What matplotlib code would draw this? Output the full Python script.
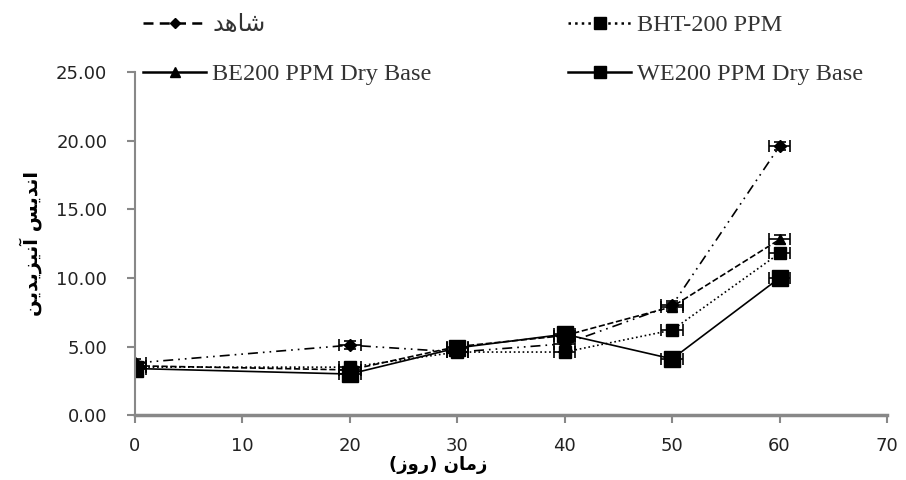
import matplotlib.pyplot as plt
from matplotlib.lines import Line2D
import numpy as np

# days of storage
days = [0, 20, 30, 40, 50, 60]

# anisidine index per treatment
control = [3.8, 5.1, 4.6, 5.2, 8.0, 19.6]
bht = [3.5, 3.5, 4.6, 4.6, 6.2, 11.8]
be200 = [3.6, 3.3, 5.0, 5.8, 7.9, 12.8]
we200 = [3.4, 3.0, 4.9, 5.9, 4.1, 10.0]

# error bars (x and y)
x_err = 1.0
y_err = 0.3

# Persian labels in presentation forms, visual order
lbl_control = "\uFEAA\uFEEB\uFE8E\uFEB7"  # شاهد
lbl_bht = "BHT-200 PPM"
lbl_be = "BE200 PPM Dry Base"
lbl_we = "WE200 PPM Dry Base"
xlabel = "(\uFEAF\uFEED\uFEAD) \uFEE5\uFE8E\uFEE3\uFEAF"  # زمان (روز)
ylabel = "\uFEE6\uFEF3\uFEAA\uFEF3\uFEB0\uFEF4\uFEE7\uFE81 \uFEB2\uFEF3\uFEAA\uFEE7\uFE8D"  # اندیس آنیزیدین

yticks = np.arange(0, 26, 5)
xticks = np.arange(0, 71, 10)

plt.rcParams['font.family'] = ['DejaVu Sans']

fig = plt.figure(figsize=(9.06, 4.8), dpi=100)
ax = fig.add_axes([0.149, 0.135, 0.83, 0.715])

series = [
    (control, lbl_control, (0, (6, 3, 1, 3, 1, 3)), 'D', 6),
    (be200, lbl_be, '--', '^', 7),
    (bht, lbl_bht, ':', 's', 8),
    (we200, lbl_we, '-', 's', 11),
]

for vals, lbl, ls, mk, ms in series:
    ax.errorbar(days, vals, xerr=x_err, yerr=y_err, color='black',
                linestyle=ls, linewidth=1.2, marker=mk, markersize=ms,
                capsize=4, elinewidth=1.2, capthick=1.2)

ax.set_xlim(0, 70)
ax.set_ylim(0, 25)
ax.set_xticks(xticks)
ax.set_yticks(yticks)
ax.set_yticklabels([f"{v:.2f}" for v in yticks])
ax.tick_params(axis='both', labelsize=13, color='#888888', length=6, width=1.5,
               labelcolor='#222222')
ax.tick_params(axis='x', pad=10)
ax.tick_params(axis='y', pad=14)

for s in ['top', 'right']:
    ax.spines[s].set_visible(False)
ax.spines['left'].set_color('#888888')
ax.spines['left'].set_linewidth(1.5)
ax.spines['bottom'].set_color('#888888')
ax.spines['bottom'].set_linewidth(2.5)

ax.set_xlabel(xlabel, fontsize=13, fontweight='bold')
ax.xaxis.set_label_coords(0.403, -0.118)
ax.set_ylabel(ylabel, fontsize=14, fontweight='bold', labelpad=10)

# legend entries placed like the original (two rows, two columns)
legend_styles = [
    ((0, (4, 2.5)), 'D', 5, lbl_control, 143, 25),
    ('-', '^', 7, lbl_be, 143, 74),
    (':', 's', 8, lbl_bht, 568, 25),
    ('-', 's', 9, lbl_we, 568, 74),
]
for ls, mk, ms, lbl, px, py in legend_styles:
    h = Line2D([], [], color='black', linestyle=ls, linewidth=1.8, marker=mk, markersize=ms)
    leg = fig.legend([h], [lbl], loc='center left',
                     bbox_to_anchor=(px / 906, 1 - py / 480),
                     frameon=False, borderpad=0, borderaxespad=0,
                     prop={'family': ['Liberation Serif', 'DejaVu Sans'], 'size': 17.5},
                     handlelength=2.6, handletextpad=0.25)
    for t in leg.get_texts():
        t.set_color('#333333')

fig.savefig('out.png', dpi=100)
